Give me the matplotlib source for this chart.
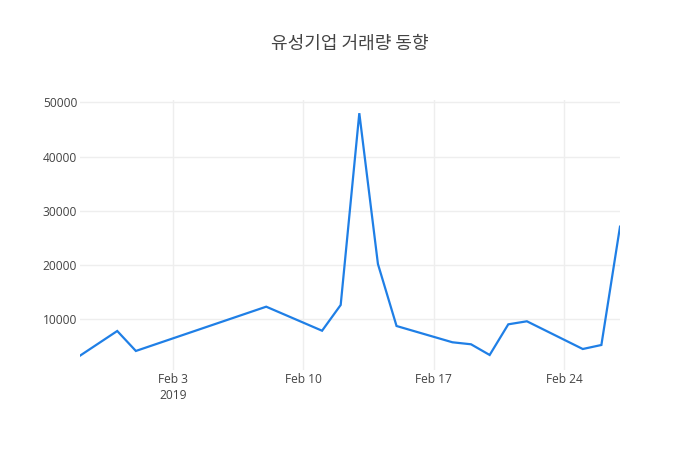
import matplotlib
matplotlib.use("Agg")
import matplotlib.pyplot as plt
import pandas as pd

plt.rcParams['font.family'] = ['Open Sans', 'Noto Sans CJK KR', 'DejaVu Sans']

dates = ["2019-01-29", "2019-01-31", "2019-02-01", "2019-02-08", "2019-02-11",
         "2019-02-12", "2019-02-13", "2019-02-14", "2019-02-15", "2019-02-18",
         "2019-02-19", "2019-02-20", "2019-02-21", "2019-02-22", "2019-02-25",
         "2019-02-26", "2019-02-27"]
volume = [3300, 7850, 4170, 12330, 7900, 12650, 48000, 20200, 8770, 5770,
          5400, 3430, 9080, 9640, 4530, 5270, 27080]
title = "유성기업 거래량 동향"
y_ticks = [10000, 20000, 30000, 40000, 50000]
x_ticks = ["2019-02-03", "2019-02-10", "2019-02-17", "2019-02-24"]
x_tick_labels = ["Feb 3\n2019", "Feb 10", "Feb 17", "Feb 24"]

x = pd.to_datetime(dates)

fig = plt.figure(figsize=(7, 4.5), dpi=100)
ax = fig.add_axes([80/700, 80/450, 540/700, 270/450])
ax.plot(x, volume, color="#1f7fe6", linewidth=1.6, solid_joinstyle='miter')

ax.set_xlim(x[0], x[-1])
ax.set_ylim(660, 50430)
ax.set_yticks(y_ticks)
ax.set_yticklabels([str(v) for v in y_ticks])
ax.set_xticks(pd.to_datetime(x_ticks))
ax.set_xticklabels(x_tick_labels, linespacing=1.35)

for s in ax.spines.values():
    s.set_visible(False)
ax.grid(True, color="#eeeeee", linewidth=1)
ax.set_axisbelow(True)
ax.tick_params(axis='both', length=0, labelsize=8.64, colors="#444444")
ax.tick_params(axis='x', pad=2)
ax.tick_params(axis='y', pad=2)

fig.text(350/700, 1 - 44/450, title, ha='center', va='center', fontsize=13,
         color="#444444", family=['Noto Sans CJK KR', 'DejaVu Sans'])

fig.savefig("out.png", dpi=100)
